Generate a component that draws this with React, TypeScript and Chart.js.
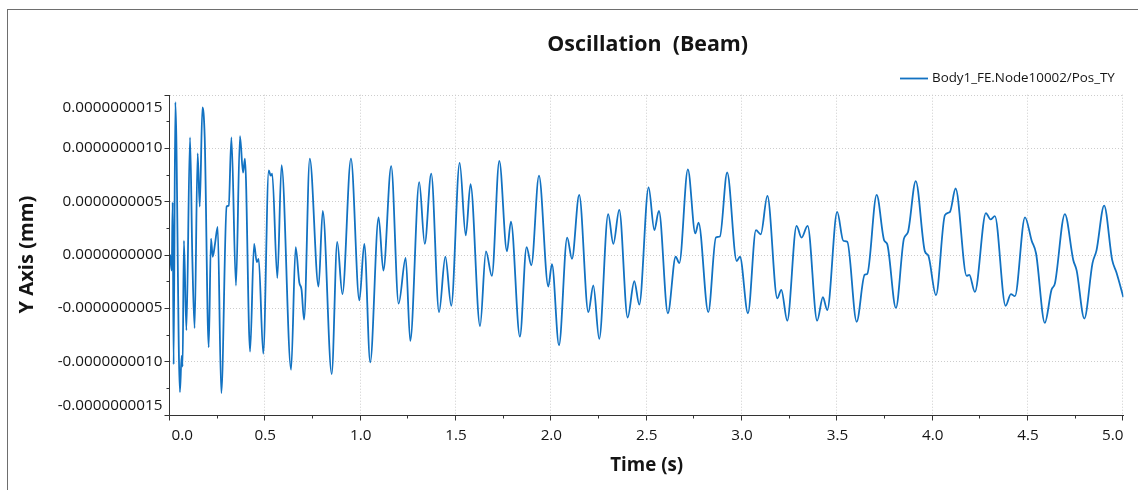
import { useEffect, useRef } from "react";
import { Chart, registerables } from "chart.js";

Chart.register(...registerables);

// ---- data (time in s, position in units of 1e-9 mm) ----
const TIME_S = [
  0.0, 0.009, 0.014, 0.019, 0.028, 0.052, 0.061, 0.066, 0.073, 0.086,
  0.105, 0.117, 0.129, 0.145, 0.156, 0.17, 0.182, 0.203, 0.215, 0.224,
  0.236, 0.25, 0.269, 0.297, 0.308, 0.322, 0.346, 0.367, 0.383, 0.393,
  0.42, 0.441, 0.455, 0.465, 0.489, 0.518, 0.528, 0.536, 0.563, 0.585,
  0.635, 0.659, 0.678, 0.69, 0.703, 0.733, 0.779, 0.801, 0.848, 0.877,
  0.904, 0.949, 0.993, 1.019, 1.05, 1.094, 1.119, 1.16, 1.199, 1.236,
  1.26, 1.307, 1.336, 1.37, 1.411, 1.444, 1.475, 1.519, 1.551, 1.576,
  1.626, 1.657, 1.688, 1.727, 1.767, 1.788, 1.835, 1.87, 1.895, 1.935,
  1.984, 2.003, 2.04, 2.083, 2.108, 2.146, 2.194, 2.22, 2.251, 2.298,
  2.325, 2.356, 2.4, 2.435, 2.461, 2.51, 2.54, 2.564, 2.611, 2.652,
  2.671, 2.716, 2.755, 2.772, 2.823, 2.863, 2.884, 2.922, 2.972, 2.989,
  3.031, 3.073, 3.098, 3.133, 3.185, 3.206, 3.237, 3.286, 3.312, 3.344,
  3.394, 3.424, 3.447, 3.499, 3.531, 3.552, 3.601, 3.643, 3.657, 3.706,
  3.746, 3.761, 3.807, 3.849, 3.87, 3.911, 3.959, 3.977, 4.017, 4.064,
  4.09, 4.12, 4.178, 4.192, 4.221, 4.279, 4.303, 4.326, 4.382, 4.41,
  4.431, 4.484, 4.519, 4.542, 4.588, 4.623, 4.641, 4.693, 4.737, 4.755,
  4.795, 4.838, 4.859, 4.899, 4.941, 4.964, 5.0,
];
const POS_E9 = [
  0.0, -0.15, 0.49, -1.03, 1.43, -1.29, -0.95, -1.05, 0.13, -0.71,
  1.1, -0.02, -0.69, 0.95, 0.45, 1.38, 1.1, -0.87, 0.15, -0.02,
  0.1, 0.26, -1.3, 0.45, 0.46, 1.1, -0.29, 1.11, 0.77, 0.9,
  -0.91, 0.1, -0.07, -0.04, -0.93, 0.79, 0.74, 0.76, -0.22, 0.84,
  -1.08, 0.07, -0.26, -0.33, -0.61, 0.9, -0.3, 0.41, -1.12, 0.12,
  -0.37, 0.9, -0.43, 0.1, -1.01, 0.35, -0.15, 0.83, -0.46, -0.03,
  -0.81, 0.68, 0.1, 0.76, -0.54, -0.02, -0.48, 0.86, 0.18, 0.66,
  -0.67, 0.03, -0.2, 0.88, 0.03, 0.31, -0.77, 0.07, -0.1, 0.74,
  -0.3, -0.09, -0.85, 0.16, -0.04, 0.56, -0.54, -0.29, -0.79, 0.38,
  0.1, 0.42, -0.59, -0.25, -0.47, 0.63, 0.23, 0.41, -0.55, -0.02,
  -0.08, 0.8, 0.2, 0.3, -0.54, 0.16, 0.17, 0.77, -0.06, -0.02,
  -0.55, 0.23, 0.19, 0.55, -0.41, -0.33, -0.62, 0.27, 0.16, 0.27,
  -0.62, -0.4, -0.52, 0.4, 0.13, 0.12, -0.63, -0.19, -0.18, 0.56,
  0.13, 0.1, -0.5, 0.15, 0.21, 0.69, 0.03, -0.01, -0.38, 0.37,
  0.4, 0.62, -0.2, -0.19, -0.35, 0.39, 0.33, 0.36, -0.48, -0.37,
  -0.39, 0.35, 0.13, 0.01, -0.64, -0.33, -0.27, 0.38, -0.05, -0.15,
  -0.6, -0.08, 0.04, 0.46, -0.05, -0.17, -0.4,
];

const X_TICKS = [0, 0.5, 1, 1.5, 2, 2.5, 3, 3.5, 4, 4.5, 5];
const X_TICK_LABELS = ["0.0", "0.5", "1.0", "1.5", "2.0", "2.5", "3.0", "3.5", "4.0", "4.5", "5.0"];
const Y_TICKS = [-1.5e-9, -1.0e-9, -0.5e-9, 0, 0.5e-9, 1.0e-9, 1.5e-9];
const Y_TICK_LABELS = [
  "-0.0000000015", "-0.0000000010", "-0.0000000005", "0.0000000000",
  "0.0000000005", "0.0000000010", "0.0000000015",
];

const TITLE = "Oscillation  (Beam)";
const X_TITLE = "Time (s)";
const Y_TITLE = "Y Axis (mm)";
const SERIES_NAME = "Body1_FE.Node10002/Pos_TY";

const FONT = '"Open Sans", "Noto Sans", sans-serif';
const LINE_COLOR = "#1272c2";
const TEXT_COLOR = "#141414";
const AXIS_COLOR = "#333333";
const GRID_COLOR = "#cdcdcd";

function fitSize(ctx: CanvasRenderingContext2D, text: string, weight: string, target: number) {
  ctx.font = `${weight} 100px ${FONT}`;
  const w = ctx.measureText(text).width;
  return (100 * target) / w;
}

const decorPlugin = {
  id: "decor",
  beforeDatasetsDraw(chart: any) {
    const { ctx, chartArea, scales } = chart;
    const { left, right, top, bottom } = chartArea;
    const xs = scales.x;
    const ys = scales.y;
    ctx.save();
    ctx.strokeStyle = GRID_COLOR;
    ctx.lineWidth = 1;
    ctx.setLineDash([1, 2]);
    X_TICKS.forEach((t, i) => {
      if (i === 0) return;
      const px = Math.round(xs.getPixelForValue(t)) - 0.5;
      ctx.beginPath();
      ctx.moveTo(px, top);
      ctx.lineTo(px, bottom);
      ctx.stroke();
    });
    Y_TICKS.forEach((v, i) => {
      if (i === 0) return;
      const py = Math.round(ys.getPixelForValue(v)) + 0.5;
      ctx.beginPath();
      ctx.moveTo(left, py);
      ctx.lineTo(right, py);
      ctx.stroke();
    });
    ctx.restore();
  },
  afterDraw(chart: any) {
    const { ctx, chartArea, scales } = chart;
    const { left, right, top, bottom } = chartArea;
    const xs = scales.x;
    const ys = scales.y;
    ctx.save();
    ctx.setLineDash([]);
    // axes
    ctx.strokeStyle = AXIS_COLOR;
    ctx.lineWidth = 1;
    const ax = Math.round(left) - 0.5;
    const ay = Math.round(bottom) + 0.5;
    ctx.beginPath();
    ctx.moveTo(ax, Math.round(top));
    ctx.lineTo(ax, ay);
    ctx.lineTo(Math.round(right) + 1, ay);
    ctx.stroke();
    // y ticks
    Y_TICKS.forEach((v, i) => {
      const py = Math.round(ys.getPixelForValue(v)) + 0.5;
      ctx.beginPath();
      ctx.moveTo(ax - 5, py);
      ctx.lineTo(ax, py);
      ctx.stroke();
      if (i < Y_TICKS.length - 1) {
        const pm = Math.round(ys.getPixelForValue((v + Y_TICKS[i + 1]) / 2)) + 0.5;
        ctx.beginPath();
        ctx.moveTo(ax - 3, pm);
        ctx.lineTo(ax, pm);
        ctx.stroke();
      }
    });
    // x ticks
    X_TICKS.forEach((t, i) => {
      const px = Math.round(xs.getPixelForValue(t)) - 0.5;
      ctx.beginPath();
      ctx.moveTo(px, ay);
      ctx.lineTo(px, ay + 5);
      ctx.stroke();
      if (i < X_TICKS.length - 1) {
        const pm = Math.round(xs.getPixelForValue((t + X_TICKS[i + 1]) / 2)) - 0.5;
        ctx.beginPath();
        ctx.moveTo(pm, ay);
        ctx.lineTo(pm, ay + 3);
        ctx.stroke();
      }
    });

    ctx.fillStyle = TEXT_COLOR;
    // y labels
    const tickSize = fitSize(ctx, Y_TICK_LABELS[6], "400", 100);
    ctx.font = `400 ${tickSize}px ${FONT}`;
    ctx.textAlign = "right";
    ctx.textBaseline = "middle";
    Y_TICK_LABELS.forEach((lab, i) => {
      let py = ys.getPixelForValue(Y_TICKS[i]);
      py = Math.min(Math.max(py, top + 12.5), bottom - 8.5);
      ctx.fillText(lab, left - 7.5, py);
    });
    // x labels
    ctx.textAlign = "left";
    X_TICK_LABELS.forEach((lab, i) => {
      const w = ctx.measureText(lab).width;
      let lx = xs.getPixelForValue(X_TICKS[i]) - w / 2;
      lx = Math.min(Math.max(lx, left + 1.5), right - w);
      ctx.fillText(lab, lx, bottom + 21);
    });

    // axis titles
    ctx.textAlign = "center";
    const xtSize = fitSize(ctx, X_TITLE, "700", 73);
    ctx.font = `700 ${xtSize}px ${FONT}`;
    ctx.fillText(X_TITLE, (left + right) / 2, 466);
    const ytSize = fitSize(ctx, Y_TITLE, "700", 118);
    ctx.font = `700 ${ytSize}px ${FONT}`;
    ctx.save();
    ctx.translate(27, (top + bottom) / 2);
    ctx.rotate(-Math.PI / 2);
    ctx.fillText(Y_TITLE, 0, 0);
    ctx.restore();

    // chart title
    const tSize = fitSize(ctx, TITLE, "700", 201);
    ctx.font = `700 ${tSize}px ${FONT}`;
    ctx.fillText(TITLE, (left + right) / 2 + 1, 45);

    // legend
    ctx.strokeStyle = LINE_COLOR;
    ctx.lineWidth = 1.8;
    ctx.beginPath();
    ctx.moveTo(900, 78.5);
    ctx.lineTo(928, 78.5);
    ctx.stroke();
    const lSize = fitSize(ctx, SERIES_NAME, "400", 183);
    ctx.font = `400 ${lSize}px ${FONT}`;
    ctx.textAlign = "left";
    ctx.fillText(SERIES_NAME, 932, 78);
    ctx.restore();
  },
};

export default function App() {
  const ref = useRef<HTMLCanvasElement | null>(null);
  useEffect(() => {
    const canvas = ref.current;
    if (!canvas) return;
    const points = TIME_S.map((t, i) => ({ x: t, y: POS_E9[i] * 1e-9 }));
    const chart = new Chart(canvas, {
      type: "line",
      data: {
        datasets: [
          {
            label: SERIES_NAME,
            data: points,
            borderColor: LINE_COLOR,
            borderWidth: 1.8,
            pointRadius: 0,
            fill: false,
            cubicInterpolationMode: "monotone",
          },
        ],
      },
      options: {
        responsive: false,
        animation: false,
        devicePixelRatio: 1,
        events: [],
        layout: { padding: { left: 170, top: 94.7, right: 14.6, bottom: 75.5 } },
        plugins: {
          legend: { display: false },
          title: { display: false },
          tooltip: { enabled: false },
        },
        scales: {
          x: { type: "linear", min: 0, max: 5, display: false },
          y: { type: "linear", min: -1.5e-9, max: 1.5e-9, display: false },
        },
      },
      plugins: [decorPlugin],
    } as any);
    return () => chart.destroy();
  }, []);

  return (
    <>
      <div
        style={{
          position: "absolute",
          left: 7,
          top: 9,
          width: 1131,
          height: 481,
          boxSizing: "border-box",
          borderTop: "1px solid #6e6e6e",
          borderLeft: "1px solid #6e6e6e",
        }}
      />
      <canvas
        ref={ref}
        width={1138}
        height={490}
        style={{ position: "absolute", left: 0, top: 0, width: 1138, height: 490 }}
      />
    </>
  );
}
